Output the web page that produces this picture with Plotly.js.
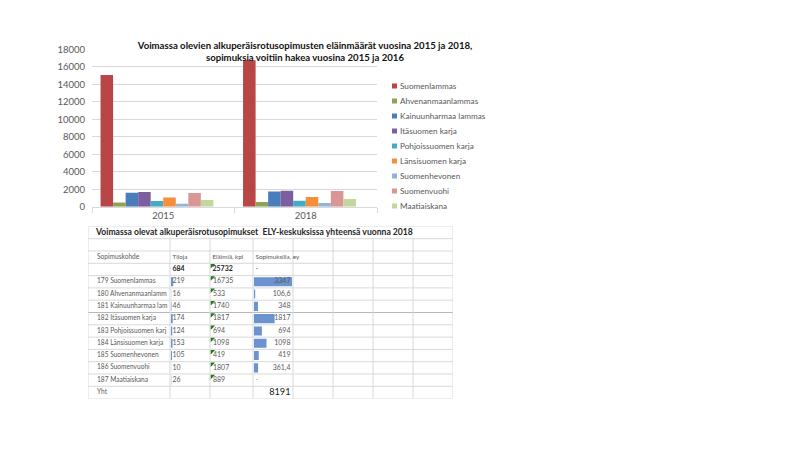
<!DOCTYPE html>
<html><head><meta charset="utf-8">
<script src="https://cdn.plot.ly/plotly-3.0.1.min.js"></script>
<style>html,body{margin:0;padding:0;background:#fff}#chart{width:800px;height:450px}</style>
</head><body><div id="chart"></div>
<script>
// ---------- chart data ----------
const years = ['2015', '2018'];
const breeds = ['Suomenlammas', 'Ahvenanmaanlammas', 'Kainuunharmaa lammas', 'Itäsuomen karja', 'Pohjoissuomen karja', 'Länsisuomen karja', 'Suomenhevonen', 'Suomenvuohi', 'Maatiaiskana'];
const animals2015 = [15050, 480, 1600, 1680, 640, 1040, 330, 1560, 760];
const animals2018 = [16735, 533, 1740, 1817, 694, 1098, 419, 1807, 889];
const colors = ['#B94646', '#8DA456', '#4A7EBB', '#7D5FA0', '#46AAC5', '#F38E3B', '#95B3D7', '#D99694', '#C3D69B'];
const chartTitle = '<b>Voimassa olevien alkuperäisrotusopimusten eläinmäärät vuosina 2015 ja 2018,</b><br><b>sopimuksia voitiin hakea vuosina 2015 ja 2016</b>';

// ---------- table data ----------
const tableTitle = 'Voimassa olevat alkuperäisrotusopimukset  ELY-keskuksissa yhteensä vuonna 2018';
const tableHeaders = ['Sopimuskohde', 'Tiloja', 'Eläimiä, kpl', 'Sopimuksilla, ey'];
// first-column labels as they are shown in the sheet (cut at the cell edge)
const rowLabels = ['179 Suomenlammas', '180 Ahvenanmaanlamm', '181 Kainuunharmaa lam', '182 Itäsuomen karja', '183 Pohjoissuomen karj', '184 Länsisuomen karja', '185 Suomenhevonen', '186 Suomenvuohi', '187 Maatiaiskana'];
const farms = [219, 16, 46, 174, 124, 153, 105, 10, 26];
const animalCounts = [16735, 533, 1740, 1817, 694, 1098, 419, 1807, 889];
const animalUnits = [3347, 106.6, 348, 1817, 694, 1098, 419, 361.4, null];
const totalFarms = 684;
const totalAnimals = 25732;
const totalUnits = 8191;
const totalLabel = 'Yht';

// ---------- layout constants ----------
const FONT = 'Lato, "Liberation Sans", sans-serif';
const W = 800, H = 450;
const colEdges = [88, 170, 210, 253, 293, 333, 373, 413, 453];
const tableTop = 226.4, rowH = 12.3, nRows = 14;
const firstDataRow = 4;
const unitBarFull = colEdges[4] - colEdges[3] - 2;
const farmBarScale = 2.2 / 219;

const traces = [];
breeds.forEach((b, i) => {
  traces.push({
    type: 'bar', name: b, x: years, y: [animals2015[i], animals2018[i]],
    marker: {color: colors[i]}, xaxis: 'x', yaxis: 'y', showlegend: false, hoverinfo: 'x+y+name'
  });
});
// empty trailing series slot (as in the original spreadsheet chart)
traces.push({type: 'bar', name: '', x: years, y: [null, null], xaxis: 'x', yaxis: 'y', showlegend: false, hoverinfo: 'skip'});

// ---------- table ----------
const rowCenter = r => r + 0.5;
const dataRows = rowLabels.map((c, i) => firstDataRow + i);

// data bars (one trace, bases at column starts)
const unitMax = Math.max(...animalUnits.filter(v => v !== null));
const barY = [], barX = [], barBase = [];
farms.forEach((f, i) => { barY.push(rowCenter(dataRows[i])); barX.push(f * farmBarScale); barBase.push(colEdges[1] + 1); });
animalUnits.forEach((u, i) => {
  if (u !== null) { barY.push(rowCenter(dataRows[i])); barX.push(u / unitMax * unitBarFull); barBase.push(colEdges[3] + 1); }
});
traces.push({
  type: 'bar', orientation: 'h', x: barX, y: barY, base: barBase, width: 0.74,
  marker: {color: '#6A93CF', line: {width: 0}}, xaxis: 'x2', yaxis: 'y2', showlegend: false, hoverinfo: 'skip'
});

// green indicator triangles in "Eläimiä" column
const triRows = [3].concat(dataRows);
traces.push({
  type: 'scatter', mode: 'markers', x: triRows.map(() => colEdges[2] + 2.2), y: triRows.map(r => r + 0.18),
  marker: {symbol: 'triangle-nw', size: 5, color: '#1E7B1E', line: {width: 0}},
  xaxis: 'x2', yaxis: 'y2', showlegend: false, hoverinfo: 'skip'
});

function textTrace(xs, ys, texts, pos, size, color, axes, bold) {
  return {
    type: 'scatter', mode: 'text', x: xs, y: ys,
    text: texts.map(t => bold ? '<b>' + t + '</b>' : t),
    textposition: pos, textfont: {family: FONT, size: size, color: color},
    xaxis: axes[0], yaxis: axes[1], showlegend: false, hoverinfo: 'skip', cliponaxis: true
  };
}
const fmt = v => String(v).replace('.', ',');
const pad = 2.5;
// title row
traces.push(textTrace([colEdges[0] + 8], [rowCenter(0)], [tableTitle], 'middle right', 8.6, '#262626', ['x2', 'y2'], true));
// first column (clipped to its cell)
traces.push(textTrace(
  [colEdges[0] + 9].concat(rowLabels.map(() => colEdges[0] + 9), [colEdges[0] + 9]),
  [rowCenter(2)].concat(dataRows.map(rowCenter), [rowCenter(13)]),
  [tableHeaders[0]].concat(rowLabels, [totalLabel]),
  'middle right', 6.6, '#595959', ['x3', 'y3'], false));
// headers
traces.push(textTrace(tableHeaders.slice(1).map((h, j) => colEdges[j + 1] + pad), tableHeaders.slice(1).map(() => rowCenter(2)),
  tableHeaders.slice(1), 'middle right', 6.3, '#595959', ['x2', 'y2'], false));
// totals row
traces.push(textTrace([colEdges[1] + pad, colEdges[2] + pad], [rowCenter(3), rowCenter(3)],
  [String(totalFarms), String(totalAnimals)], 'middle right', 7, '#262626', ['x2', 'y2'], true));
traces.push(textTrace([colEdges[3] + pad], [rowCenter(3)], ['-'], 'middle right', 7, '#595959', ['x2', 'y2'], false));
// data columns
traces.push(textTrace(farms.map(() => colEdges[1] + pad), dataRows.map(rowCenter), farms.map(String), 'middle right', 7, '#595959', ['x2', 'y2'], false));
traces.push(textTrace(animalCounts.map(() => colEdges[2] + pad + 0.5), dataRows.map(rowCenter), animalCounts.map(String), 'middle right', 7, '#595959', ['x2', 'y2'], false));
const unitIdx = animalUnits.map((u, i) => i).filter(i => animalUnits[i] !== null);
const nullIdx = animalUnits.map((u, i) => i).filter(i => animalUnits[i] === null);
traces.push(textTrace(unitIdx.map(() => colEdges[4] - pad), unitIdx.map(i => rowCenter(dataRows[i])), unitIdx.map(i => fmt(animalUnits[i])), 'middle left', 7, '#595959', ['x2', 'y2'], false));
traces.push(textTrace(nullIdx.map(() => colEdges[3] + pad), nullIdx.map(i => rowCenter(dataRows[i])), nullIdx.map(() => '-'), 'middle right', 7, '#9a9a9a', ['x2', 'y2'], false));
// grand total
traces.push(textTrace([colEdges[4] - pad], [rowCenter(13)], [String(totalUnits)], 'middle left', 9.2, '#1a1a1a', ['x2', 'y2'], false));

// ---------- shapes: table grid + legend swatches ----------
const shapes = [];
const gridColor = '#d9d9d9';
for (let r = 0; r <= nRows; r++) {
  shapes.push({type: 'line', xref: 'x2', yref: 'y2', x0: colEdges[0], x1: colEdges[colEdges.length - 1], y0: r, y1: r,
    line: {color: r === 7 ? '#b8b8b8' : gridColor, width: 1}, layer: 'below'});
}
colEdges.forEach((e, j) => {
  const edgeOfTable = (j === 0 || j === colEdges.length - 1);
  shapes.push({type: 'line', xref: 'x2', yref: 'y2', x0: e, x1: e, y0: edgeOfTable ? 0 : 1, y1: nRows,
    line: {color: gridColor, width: 1}, layer: 'below'});
});

// compact legend, as in the original
const annotations = [];
const legX = 392, legY0 = 86, legStep = 15, sw = 5;
breeds.forEach((b, i) => {
  const yc = legY0 + i * legStep;
  shapes.push({type: 'rect', xref: 'paper', yref: 'paper', x0: legX / W, x1: (legX + sw) / W,
    y0: 1 - (yc + sw / 2) / H, y1: 1 - (yc - sw / 2) / H, fillcolor: colors[i], line: {width: 0}});
  annotations.push({xref: 'paper', yref: 'paper', x: (legX + sw + 1) / W, y: 1 - yc / H, xanchor: 'left', yanchor: 'middle',
    text: b, showarrow: false, font: {family: FONT, size: 8.2, color: '#595959'}});
});

const hidden = {visible: false, fixedrange: true};
const layout = {
  width: W, height: H, margin: {l: 0, r: 0, t: 0, b: 0},
  paper_bgcolor: '#fff', plot_bgcolor: 'rgba(0,0,0,0)',
  font: {family: FONT, color: '#595959'},
  title: {text: chartTitle, x: 305 / W, xanchor: 'center', y: 1 - 49 / H, yanchor: 'middle', font: {family: FONT, size: 9.6, color: '#111'}},
  barmode: 'group', bargap: 0.12, bargroupgap: 0,
  xaxis: {domain: [92 / W, 377 / W], type: 'category', anchor: 'y', tickson: 'boundaries', ticks: 'outside', ticklen: 5,
    tickcolor: '#d9d9d9', showline: true, linecolor: '#d9d9d9', showgrid: false, tickfont: {size: 9.5, color: '#595959'}, fixedrange: true},
  yaxis: {domain: [1 - 206.7 / H, 1 - 49.3 / H], anchor: 'x', range: [0, 18000], dtick: 2000, tickformat: 'd', gridcolor: '#d9d9d9',
    zeroline: false, showline: false, ticks: '', ticklabelstandoff: 6, tickfont: {size: 9.5, color: '#595959'}, fixedrange: true},
  xaxis2: Object.assign({domain: [colEdges[0] / W, colEdges[colEdges.length - 1] / W], range: [colEdges[0], colEdges[colEdges.length - 1]], anchor: 'y2'}, hidden),
  yaxis2: Object.assign({domain: [1 - (tableTop + nRows * rowH) / H, 1 - tableTop / H], range: [nRows, 0], anchor: 'x2'}, hidden),
  xaxis3: Object.assign({domain: [colEdges[0] / W, colEdges[1] / W], range: [colEdges[0], colEdges[1]], anchor: 'y3'}, hidden),
  yaxis3: Object.assign({domain: [1 - (tableTop + nRows * rowH) / H, 1 - tableTop / H], range: [nRows, 0], anchor: 'x3'}, hidden),
  shapes: shapes, annotations: annotations
};
Plotly.newPlot('chart', traces, layout, {displayModeBar: false, staticPlot: true});
</script></body></html>
